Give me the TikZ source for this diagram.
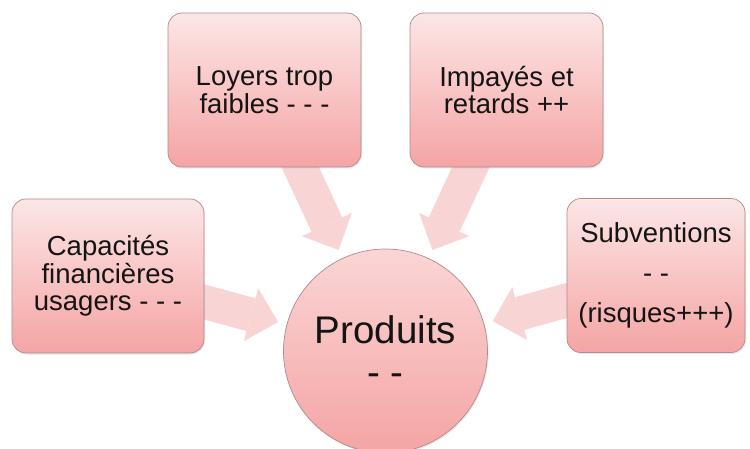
\documentclass[tikz,border=0pt]{standalone}
\usepackage{fontspec}
\newfontfamily\arialfont{Liberation Sans}
\usetikzlibrary{arrows.meta,shadows,backgrounds}
\definecolor{boxtop}{RGB}{252,230,230}
\definecolor{boxbottom}{RGB}{245,164,164}
\definecolor{boxline}{RGB}{178,138,138}
\definecolor{arrowpink}{RGB}{249,212,212}
\definecolor{textgray}{RGB}{20,20,20}
\tikzset{
  factor/.style={rectangle,rounded corners=14pt,draw=boxline,line width=0.7pt,
    top color=boxtop,bottom color=boxbottom,minimum width=193pt,minimum height=154pt,
    align=center,text=textgray,font=\arialfont\fontsize{27.5}{27.5}\selectfont,
    drop shadow={opacity=0.18,shadow xshift=1pt,shadow yshift=-1.5pt}},
  produit/.style={circle,draw=boxline,line width=0.7pt,
    top color=boxtop!75!boxbottom,bottom color=boxbottom,minimum size=204pt,
    align=center,text=textgray,font=\arialfont\fontsize{38.5}{42}\selectfont,
    drop shadow={opacity=0.18,shadow xshift=1pt,shadow yshift=-1.5pt}},
  bigarrow/.style={draw=arrowpink,line width=34pt,
    -{Triangle[width=55pt,length=28pt,line width=0pt]},shorten >=9pt,shorten <=-14pt}
}
\begin{document}
\begin{tikzpicture}[x=1pt,y=1pt]
  \useasboundingbox (0,0) rectangle (750,448);
  % draw "Loyers" box
  \node at(264.5,358)[factor](loyers){Loyers trop\\faibles - - -};
  % draw "Impayes" box
  \node at(506.5,358)[factor](impayes){Impayés et\\retards ++};
  % draw "Capacites" box
  \node at(108,172)[factor,minimum width=192pt](capacites){Capacités\\financières\\usagers - - -};
  % draw "Subventions" box
  \node at(656,172.5)[factor,minimum width=178pt,font=\arialfont\fontsize{27.5}{40}\selectfont](subventions){Subventions\\- -\\(risques+++)};
  % draw "Produits" circle
  \node at(385.5,97)[produit](produits){Produits\\- -};
  % draw arrows from boxes to circle
  \begin{scope}[on background layer]
    \draw [bigarrow](loyers) -- (produits);
    \draw [bigarrow](impayes) -- (produits);
    \draw [bigarrow](capacites) -- (produits);
    \draw [bigarrow](subventions) -- (produits);
  \end{scope}
\end{tikzpicture}
\end{document}
